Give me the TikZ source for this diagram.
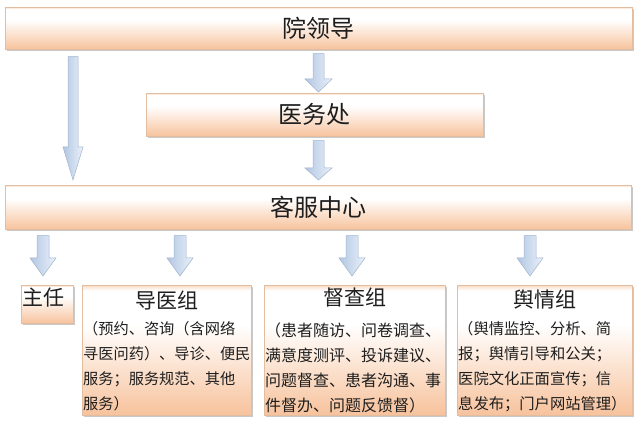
\documentclass[tikz,border=0pt]{standalone}
\usepackage{fontspec}
\newfontfamily\cjk{Noto Sans CJK SC}
\usetikzlibrary{calc,shadows}
\definecolor{pbot}{HTML}{F7C29C}
\definecolor{pmid}{HTML}{FBE0CC}
\definecolor{ptop}{HTML}{F9DCC6}
\definecolor{pline}{HTML}{E3BD9F}
\definecolor{abl}{HTML}{B2C6E2}
\definecolor{abr}{HTML}{EAF1FA}
\definecolor{aline}{HTML}{A0B3CE}
\definecolor{txt}{HTML}{1E1E1E}
\pgfdeclareverticalshading{peach}{100bp}{color(0bp)=(pbot); color(25bp)=(pbot); color(42bp)=(pmid); color(60bp)=(white); color(73bp)=(white); color(75bp)=(ptop); color(100bp)=(ptop)}
\tikzset{
  orgbox/.style={draw=pline, line width=0.6pt, shading=peach,
    drop shadow={shadow xshift=1.5pt, shadow yshift=-1.5pt, fill=black!35, opacity=0.6},
    inner sep=0pt, anchor=north west, text=txt},
  bigtext/.style={font=\cjk\fontsize{24}{28}\selectfont},
  titletext/.style={font=\cjk\fontsize{21}{24}\selectfont, text=txt, inner sep=0pt},
  bodytext/.style={text=txt, inner sep=0pt, anchor=north west, align=left},
  blockarrow/.style={left color=abl, right color=abr, draw=aline, line width=0.5pt, line join=miter}
}
% #1 src node, #2 dst node, #3 x, #4 shaft half width, #5 head half width,
% #6 head length, #7 gap below src, #8 gap above dst
\newcommand\flowarrow[8]{%
  \path[blockarrow] let \p1=([yshift=-#7pt]#1.south), \p2=([yshift=#8pt]#2.north) in
    (#3pt-#4pt,\y1) -- (#3pt+#4pt,\y1) -- (#3pt+#4pt,\y2+#6pt) -- (#3pt+#5pt,\y2+#6pt)
    -- (#3pt,\y2) -- (#3pt-#5pt,\y2+#6pt) -- (#3pt-#4pt,\y2+#6pt) -- cycle;}
\begin{document}
\begin{tikzpicture}[x=1pt,y=-1pt]
\useasboundingbox[fill=white] (0,0) rectangle (640,427);

\node[orgbox, bigtext, minimum width=627pt, minimum height=42pt] (lead) at (5,7) {院领导};
\node[orgbox, bigtext, minimum width=337pt, minimum height=43pt] (med) at (146,93) {医务处};
\node[orgbox, bigtext, minimum width=626pt, minimum height=44pt] (kf) at (5,185) {客服中心};

\node[orgbox, minimum width=52pt, minimum height=38pt] (zr) at (21,285) {};
\node[orgbox, minimum width=169pt, minimum height=130pt] (dy) at (82,285) {};
\node[orgbox, minimum width=181pt, minimum height=130pt] (dc) at (264,285) {};
\node[orgbox, minimum width=175pt, minimum height=130pt] (yq) at (457,285) {};

\node[titletext] (zrt) at (44,298) {主任};
\node[titletext] (dyt) at (166.5,300) {导医组};
\node[titletext] (dct) at (354.5,298) {督查组};
\node[titletext] (yqt) at (544.5,300) {舆情组};

\node[bodytext, font=\cjk\fontsize{15.2}{25}\selectfont] (dyb) at (83,321)
  {（预约、咨询（含网络\\寻医问药）、导诊、便民\\服务；服务规范、其他\\服务）};
\node[bodytext, font=\cjk\fontsize{16}{25}\selectfont] (dcb) at (265,323)
  {（患者随访、问卷调查、\\满意度测评、投诉建议、\\问题督查、患者沟通、事\\件督办、问题反馈督）};
\node[bodytext, font=\cjk\fontsize{15.3}{25}\selectfont] (yqb) at (458,321)
  {（舆情监控、分析、简\\报；舆情引导和公关；\\医院文化正面宣传；信\\息发布；门户网站管理）};

\flowarrow{lead}{kf}{73}{5}{10}{33}{7}{5}
\flowarrow{lead}{med}{318.5}{5.5}{13.5}{13}{4}{1}
\flowarrow{med}{kf}{318.5}{5.5}{13.5}{12}{4}{5}
\flowarrow{kf}{zr}{43}{6}{13}{18}{6}{9}
\flowarrow{kf}{dy}{180}{6}{13}{18}{6}{9}
\flowarrow{kf}{dc}{352}{6}{13}{18}{6}{9}
\flowarrow{kf}{yq}{530}{6}{13}{18}{6}{9}
\end{tikzpicture}
\end{document}
